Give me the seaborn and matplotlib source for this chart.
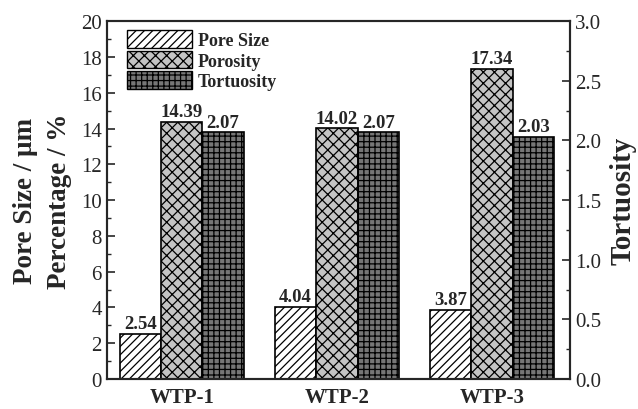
import matplotlib
matplotlib.use("Agg")
import matplotlib.pyplot as plt
import matplotlib.patches as mpatches
from matplotlib.ticker import MultipleLocator, FormatStrFormatter
import pandas as pd
import seaborn as sns

samples = ["WTP-1", "WTP-2", "WTP-3"]
series = ["Pore Size", "Porosity", "Tortuosity"]
pore_size = [2.54, 4.04, 3.87]
porosity = [14.39, 14.02, 17.34]
tortuosity = [2.07, 2.07, 2.03]

faces = {"Pore Size": "white", "Porosity": "#c4c4c4", "Tortuosity": "#767676"}
hatches = {"Pore Size": "////", "Porosity": "xxx", "Tortuosity": "+++"}

sns.set_style("ticks")
plt.rcParams["font.family"] = ["Liberation Serif", "DejaVu Serif"]
plt.rcParams["hatch.linewidth"] = 0.9
plt.rcParams["hatch.color"] = "black"

left_df = pd.DataFrame({
    "sample": samples * 2,
    "series": ["Pore Size"] * 3 + ["Porosity"] * 3,
    "value": pore_size + porosity,
})
right_df = pd.DataFrame({
    "sample": samples,
    "series": ["Tortuosity"] * 3,
    "value": tortuosity,
})

fig = plt.figure(figsize=(6.38, 4.10), dpi=100)
ax = fig.add_axes([0.168, 0.073, 0.725, 0.873])
ax2 = ax.twinx()

# tortuosity goes on its own axis but keeps its slot in each group
sns.barplot(data=left_df, x="sample", y="value", hue="series", hue_order=series,
            order=samples, palette=faces, width=0.8, dodge=True, edgecolor="black",
            linewidth=1.2, legend=False, ax=ax)
sns.barplot(data=right_df, x="sample", y="value", hue="series", hue_order=series,
            order=samples, palette=faces, width=0.8, dodge=True, edgecolor="black",
            linewidth=1.2, legend=False, ax=ax2)

for cont, name in zip(ax.containers, series[:2]):
    for bar in cont:
        bar.set_hatch(hatches[name])
    ax.bar_label(cont, fmt="%.2f", padding=1, fontsize=13.5, fontweight="bold")

for cont in ax2.containers:
    for bar in cont:
        bar.set_hatch(hatches["Tortuosity"])
    ax2.bar_label(cont, fmt="%.2f", padding=1, fontsize=13.5, fontweight="bold")

ax.set_xlim(-0.48, 2.5)
ax.set_ylim(0, 20)
ax2.set_ylim(0, 3.0)
ax.yaxis.set_major_locator(MultipleLocator(2))
ax.yaxis.set_minor_locator(MultipleLocator(1))
ax2.yaxis.set_major_locator(MultipleLocator(0.5))
ax2.yaxis.set_minor_locator(MultipleLocator(0.25))
ax2.yaxis.set_major_formatter(FormatStrFormatter("%.1f"))

ax.set_xlabel("")
ax.set_ylabel("Pore Size / μm\nPercentage / %", fontsize=19.5, fontweight="bold",
              linespacing=1.5, labelpad=6)
ax2.set_ylabel("Tortuosity", fontsize=21, fontweight="bold", labelpad=6)
ax.tick_params(axis="y", direction="in", length=6, width=1.2, labelsize=15, pad=4)
ax.tick_params(axis="y", which="minor", direction="in", length=3, width=1.0)
ax.tick_params(axis="x", direction="in", length=4, width=1.0, labelsize=15, pad=6)
ax2.tick_params(axis="y", direction="in", length=6, width=1.2, labelsize=15, pad=4)
ax2.tick_params(axis="y", which="minor", direction="in", length=3, width=1.0)
for lbl in ax.get_xticklabels():
    lbl.set_fontweight("bold")
for a in (ax, ax2):
    for sp in a.spines.values():
        sp.set_visible(True)
        sp.set_linewidth(1.5)

handles = [mpatches.Patch(facecolor=faces[s], edgecolor="black", hatch=hatches[s],
                          label=s) for s in series]
ax.legend(handles=handles, loc="upper left", bbox_to_anchor=(0.02, 1.005),
          frameon=False, prop={"weight": "bold", "size": 13},
          handlelength=3.6, handleheight=1.1, labelspacing=0.1, handletextpad=0.3,
          borderaxespad=0.2)

fig.savefig("out.png", dpi=100)
